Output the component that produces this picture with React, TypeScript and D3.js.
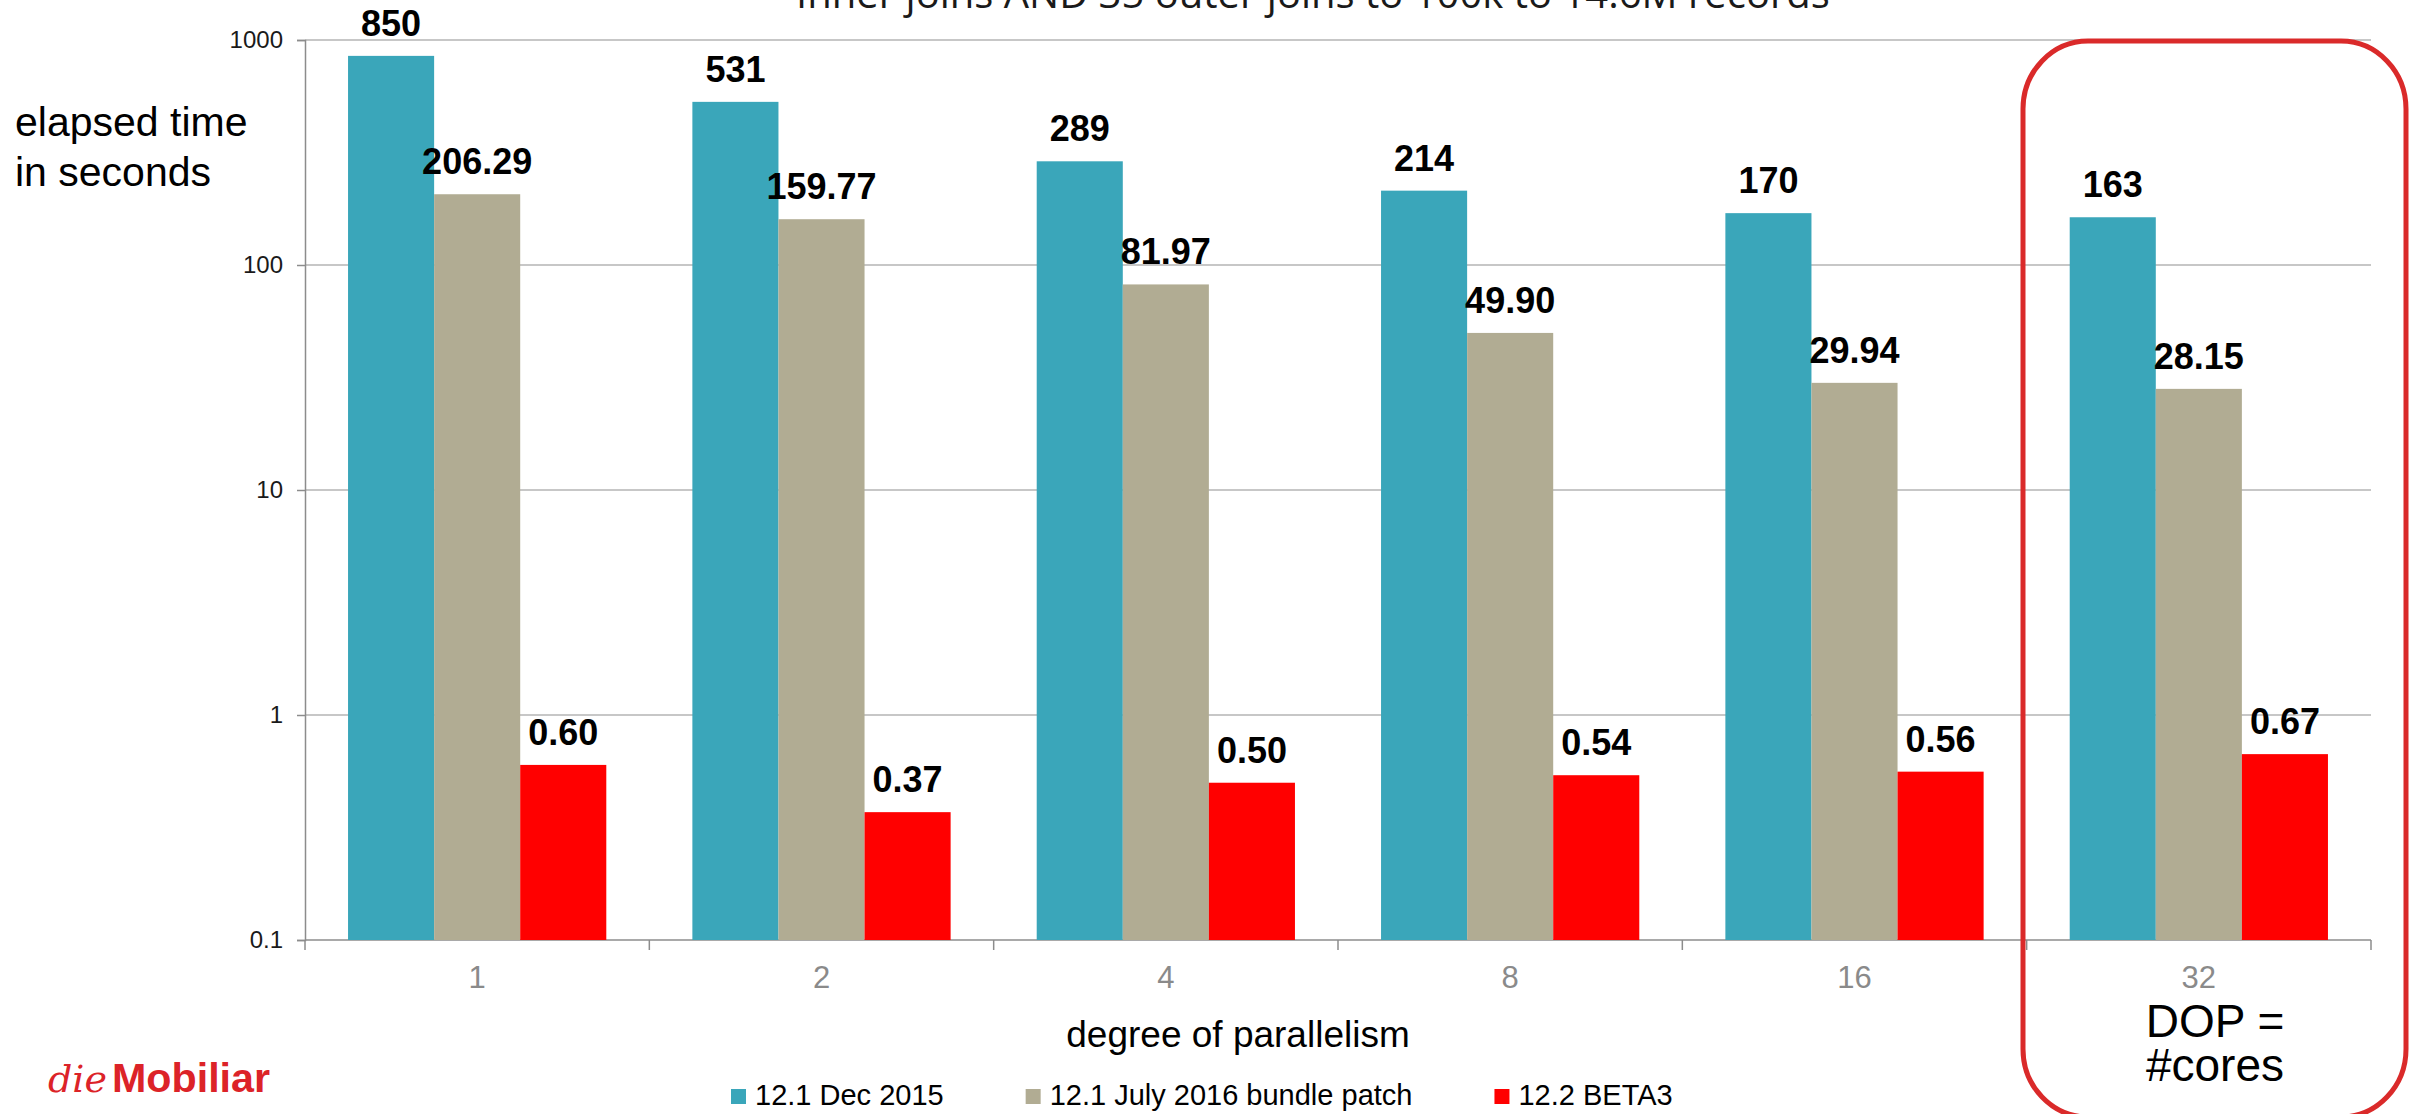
import React, { useEffect, useRef } from 'react';
import * as d3 from 'd3';

const categories = ['1', '2', '4', '8', '16', '32'];
const seriesNames = ['12.1 Dec 2015', '12.1 July 2016 bundle patch', '12.2 BETA3'];
const dec2015 = [850, 531, 289, 214, 170, 163];
const july2016 = [206.29, 159.77, 81.97, 49.9, 29.94, 28.15];
const beta3 = [0.6, 0.37, 0.5, 0.54, 0.56, 0.67];
const yTicks = [0.1, 1, 10, 100, 1000];
const colors = ['#3aa6ba', '#b1ac93', '#ff0000'];

const title = 'Inner joins AND 35 outer joins to 100k to 14.6M records';

const W = 2420;
const H = 1114;
const FONT = "Arial, 'Liberation Sans', sans-serif";

export default function App() {
  const svgRef = useRef<SVGSVGElement>(null);

  useEffect(() => {
    if (!svgRef.current) return;
    const svg = d3.select(svgRef.current);
    svg.selectAll('*').remove();

    const left = 305, right = 2371, top = 40, bottom = 940;
    const values = [dec2015, july2016, beta3];

    const x = d3.scaleBand<string>().domain(categories).range([left, right]).paddingInner(0).paddingOuter(0);
    const xs = d3.scaleBand<string>().domain(seriesNames).range([0, x.bandwidth()]).paddingInner(0).paddingOuter(0.5);
    const y = d3.scaleLog().domain([0.1, 1000]).range([bottom, top]);

    svg.append('rect').attr('width', W).attr('height', H).attr('fill', '#fff');

    // title, mostly cut off at top
    svg.append('text')
      .attr('x', 1313).attr('y', 8)
      .attr('text-anchor', 'middle')
      .attr('font-family', "'Open Sans', sans-serif")
      .attr('font-size', 40)
      .attr('fill', '#1a1a1a')
      .text(title);

    // gridlines
    svg.append('g').selectAll('line')
      .data(yTicks.slice(1))
      .enter().append('line')
      .attr('x1', left).attr('x2', right)
      .attr('y1', d => y(d)).attr('y2', d => y(d))
      .attr('stroke', '#b5b5b5').attr('stroke-width', 1.5);

    // y axis
    const yAxis = svg.append('g')
      .attr('transform', `translate(${left},0)`)
      .call(d3.axisLeft(y).tickValues(yTicks).tickFormat(d => String(d)).tickSize(8).tickPadding(14));
    yAxis.select('.domain').attr('stroke', '#8c8c8c').attr('stroke-width', 1.5);
    yAxis.selectAll('.tick line').attr('stroke', '#8c8c8c').attr('stroke-width', 1.5);
    yAxis.selectAll('.tick text')
      .attr('font-family', FONT).attr('font-size', 24).attr('fill', '#1a1a1a');

    // x axis
    const xg = svg.append('g');
    xg.append('line')
      .attr('x1', left).attr('x2', right).attr('y1', bottom).attr('y2', bottom)
      .attr('stroke', '#8c8c8c').attr('stroke-width', 1.5);
    xg.selectAll('line.tk')
      .data([...categories.map(c => x(c)!), right])
      .enter().append('line')
      .attr('class', 'tk')
      .attr('x1', d => d).attr('x2', d => d)
      .attr('y1', bottom).attr('y2', bottom + 10)
      .attr('stroke', '#8c8c8c').attr('stroke-width', 1.5);
    xg.selectAll('text')
      .data(categories)
      .enter().append('text')
      .attr('x', d => x(d)! + x.bandwidth() / 2)
      .attr('y', 988)
      .attr('text-anchor', 'middle')
      .attr('font-family', FONT).attr('font-size', 31)
      .attr('fill', '#8a8a8a')
      .text(d => d);

    // bars
    values.forEach((vals, si) => {
      const g = svg.append('g');
      g.selectAll('rect')
        .data(vals)
        .enter().append('rect')
        .attr('x', (_, i) => x(categories[i])! + xs(seriesNames[si])!)
        .attr('y', d => y(d))
        .attr('width', xs.bandwidth())
        .attr('height', d => bottom - y(d))
        .attr('fill', colors[si]);
      g.selectAll('text')
        .data(vals)
        .enter().append('text')
        .attr('x', (_, i) => x(categories[i])! + xs(seriesNames[si])! + xs.bandwidth() / 2)
        .attr('y', d => y(d) - 20)
        .attr('text-anchor', 'middle')
        .attr('font-family', FONT).attr('font-size', 36).attr('font-weight', 'bold')
        .attr('fill', '#000')
        .text(d => (si === 0 ? d3.format('d')(d) : d3.format('.2f')(d)));
    });

    // axis titles
    const yt = svg.append('text')
      .attr('font-family', FONT).attr('font-size', 41).attr('fill', '#000');
    yt.append('tspan').attr('x', 15).attr('y', 136).text('elapsed time');
    yt.append('tspan').attr('x', 15).attr('y', 186).text('in seconds');

    svg.append('text')
      .attr('x', 1238).attr('y', 1047)
      .attr('text-anchor', 'middle')
      .attr('font-family', FONT).attr('font-size', 37).attr('fill', '#000')
      .text('degree of parallelism');

    // legend
    const lg = svg.append('g');
    let lx = 731;
    seriesNames.forEach((name, i) => {
      lg.append('rect').attr('x', lx).attr('y', 1089).attr('width', 15).attr('height', 15).attr('fill', colors[i]);
      const t = lg.append('text')
        .attr('x', lx + 24).attr('y', 1105)
        .attr('font-family', FONT).attr('font-size', 29).attr('fill', '#000')
        .text(name);
      const w = (t.node() as SVGTextElement).getComputedTextLength();
      lx = lx + 24 + w + 82;
    });

    // highlight box
    svg.append('rect')
      .attr('x', 2023).attr('y', 41)
      .attr('width', 383).attr('height', 1076)
      .attr('rx', 65).attr('ry', 68)
      .attr('fill', 'none')
      .attr('stroke', '#da2a2a').attr('stroke-width', 5);
    const dop = svg.append('text')
      .attr('text-anchor', 'middle')
      .attr('font-family', FONT).attr('font-size', 46).attr('fill', '#000');
    dop.append('tspan').attr('x', 2215).attr('y', 1037).text('DOP =');
    dop.append('tspan').attr('x', 2215).attr('y', 1081).text('#cores');

    // logo
    const logo = svg.append('text').attr('y', 1092).attr('fill', '#dc2328');
    logo.append('tspan')
      .attr('x', 48)
      .attr('font-family', "'DejaVu Serif', serif").attr('font-style', 'italic')
      .attr('font-size', 38)
      .attr('textLength', 59).attr('lengthAdjust', 'spacingAndGlyphs')
      .text('die');
    logo.append('tspan')
      .attr('x', 112)
      .attr('font-family', FONT).attr('font-weight', 'bold')
      .attr('font-size', 40)
      .attr('textLength', 158).attr('lengthAdjust', 'spacingAndGlyphs')
      .text('Mobiliar');
  }, []);

  return (
    <svg
      ref={svgRef}
      width={W}
      height={H}
      style={{ position: 'absolute', left: 0, top: 0, display: 'block' }}
    />
  );
}
